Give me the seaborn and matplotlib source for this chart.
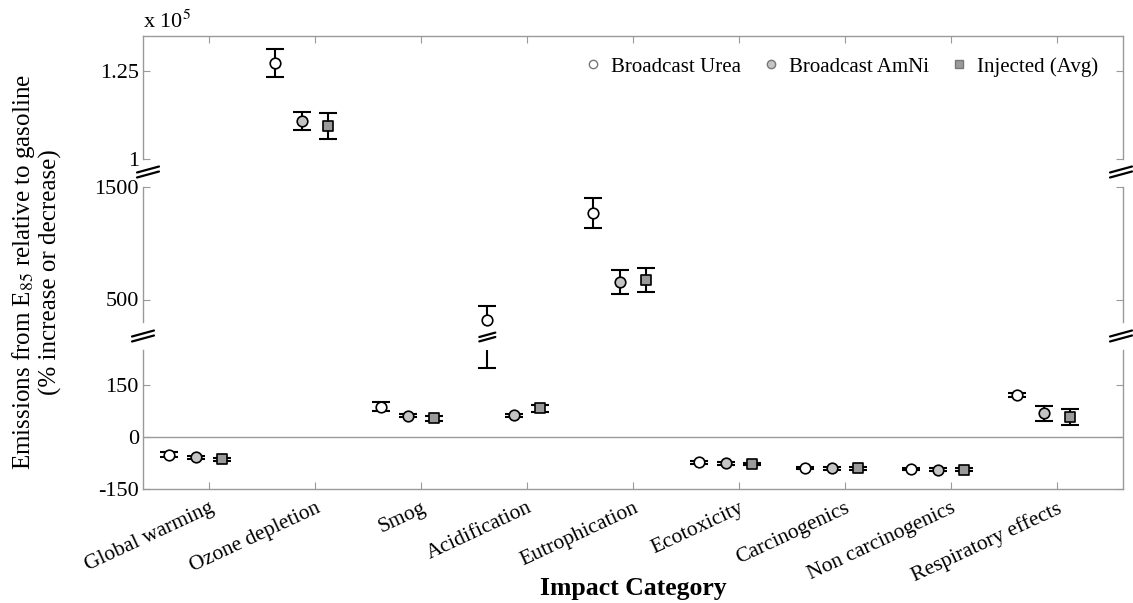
import numpy as np
import pandas as pd
import matplotlib
matplotlib.use("Agg")
import matplotlib.pyplot as plt
from matplotlib.lines import Line2D
import seaborn as sns

# ---- data: % change in emissions relative to gasoline ----
categories = ["Global warming", "Ozone depletion", "Smog", "Acidification",
              "Eutrophication", "Ecotoxicity", "Carcinogenics",
              "Non carcinogenics", "Respiratory effects"]
series = ["Broadcast Urea", "Broadcast AmNi", "Injected (Avg)"]

urea_mean = [-51, 127350, 87, 321, 1268, -73, -90, -93, 121]
urea_err = [7, 4000, 12, 123, 130, 4, 3, 3, 6]
amni_mean = [-58.5, 110900, 61, 62, 657, -76, -91, -94, 68]
amni_err = [4, 2600, 4, 5, 107, 4, 3, 3, 21]
inj_mean = [-64, 109500, 54, 83, 672, -78, -91, -94, 57]
inj_err = [4, 3700, 7, 10, 104, 4, 3, 3, 24]

means = {"Broadcast Urea": urea_mean, "Broadcast AmNi": amni_mean, "Injected (Avg)": inj_mean}
errs = {"Broadcast Urea": urea_err, "Broadcast AmNi": amni_err, "Injected (Avg)": inj_err}

# ---- styling ----
offsets = {"Broadcast Urea": -0.375, "Broadcast AmNi": -0.125, "Injected (Avg)": 0.125}
fills = {"Broadcast Urea": "white", "Broadcast AmNi": "#c4c4c4", "Injected (Avg)": "#9a9a9a"}
marks = {"Broadcast Urea": "o", "Broadcast AmNi": "o", "Injected (Avg)": "s"}
msize = {"Broadcast Urea": 58, "Broadcast AmNi": 58, "Injected (Avg)": 42}
SPINE = "#9a9a9a"

rows = []
for s in series:
    for i, c in enumerate(categories):
        rows.append({"category": c, "series": s, "value": means[s][i],
                     "err": errs[s][i], "xpos": i + 1 + offsets[s]})
df = pd.DataFrame(rows)

sns.set_style("ticks")
plt.rcParams["font.family"] = ["Liberation Serif", "DejaVu Serif"]
plt.rcParams["mathtext.fontset"] = "stix"
plt.rcParams["text.color"] = "black"

W, H = 1133, 603
fig = plt.figure(figsize=(W / 100, H / 100), dpi=100)


def px_rect(x0, y0, x1, y1):
    return [x0 / W, 1 - y1 / H, (x1 - x0) / W, (y1 - y0) / H]


ax_top = fig.add_axes(px_rect(143, 36, 1123, 159))
ax_mid = fig.add_axes(px_rect(143, 187, 1123, 322))
ax_bot = fig.add_axes(px_rect(143, 350, 1123, 489))

# y ranges of the three broken segments
limits = {ax_top: (1.0e5, 1.35e5), ax_mid: (300, 1500), ax_bot: (-150, 250)}

for ax, (lo, hi) in limits.items():
    ax.set_ylim(lo, hi)
    ax.set_xlim(0.375, 9.625)
    for s in series:
        sub = df[df["series"] == s]
        # error bars are clipped at each segment edge
        ax.errorbar(sub["xpos"], sub["value"], yerr=sub["err"], fmt="none",
                    ecolor="black", elinewidth=1.5, capsize=6.5, capthick=1.5,
                    zorder=2)
        # markers drawn whole, only in the segment that holds the value
        inside = sub[(sub["value"] >= lo) & (sub["value"] <= hi)]
        if len(inside):
            sns.scatterplot(data=inside, x="xpos", y="value", marker=marks[s],
                            color=fills[s], s=msize[s], edgecolor="black",
                            linewidth=1.2, legend=False, ax=ax, zorder=3,
                            clip_on=False)
    ax.set_xlim(0.375, 9.625)
    ax.set_ylim(lo, hi)
    ax.set_xlabel("")
    ax.set_ylabel("")
    for sp in ax.spines.values():
        sp.set_color(SPINE)
        sp.set_linewidth(1.0)
    ax.tick_params(axis="both", direction="in", length=5, color=SPINE,
                   labelcolor="black", labelsize=16, pad=3, right=True,
                   labelright=False)

ax_top.set_yticks([1.0e5, 1.25e5])
ax_top.set_yticklabels(["1", "1.25"])
ax_mid.set_yticks([500, 1500])
ax_mid.set_yticklabels(["500", "1500"])
ax_bot.set_yticks([-150, 0, 150])
ax_bot.set_yticklabels(["-150", "0", "150"])

ax_top.spines["bottom"].set_visible(False)
ax_mid.spines["top"].set_visible(False)
ax_mid.spines["bottom"].set_visible(False)
ax_bot.spines["top"].set_visible(False)

ax_top.set_xticks(range(1, 10))
ax_top.tick_params(axis="x", bottom=False, top=True, labelbottom=False)
ax_mid.set_xticks([])
ax_bot.set_xticks(range(1, 10))
ax_bot.set_xticklabels(categories, rotation=25, ha="right",
                       rotation_mode="anchor", fontsize=15.5)
ax_bot.tick_params(axis="x", top=False, pad=7)

ax_bot.axhline(0, color=SPINE, lw=1.0, zorder=1)

# legend
handles = [Line2D([], [], ls="none", marker=marks[s], markerfacecolor=fills[s],
                  markeredgecolor="#777777", markersize=6) for s in series]
ax_top.legend(handles, series, ncol=3, loc="center right",
              bbox_to_anchor=(0.983, 0.75), frameon=False, fontsize=15,
              handletextpad=0.35, columnspacing=0.95, handlelength=1.0,
              borderaxespad=0)

# axis-break marks
def break_mark(cx, cy, half=11, rise=3, gap=2.5):
    for d in (-gap, gap):
        fig.add_artist(Line2D([(cx - half) / W, (cx + half) / W],
                              [1 - (cy + rise + d) / H, 1 - (cy - rise + d) / H],
                              color="black", lw=1.6,
                              transform=fig.transFigure))


for cx, cy in [(148, 172), (143, 336), (1121, 172), (1121, 336)]:
    break_mark(cx, cy)

# break on the acidification urea error bar
fig.canvas.draw()
xd = ax_bot.transData.transform((4 + offsets["Broadcast Urea"], 0))[0]
break_mark(xd, 337, half=8, rise=2.2, gap=2.2)

fig.text(143 / W, 1 - 28 / H, r"x 10$^5$", fontsize=16, va="baseline")
fig.text(0.032, 0.549,
         "Emissions from E$_{85}$ relative to gasoline\n(% increase or decrease)",
         rotation=90, ha="center", va="center", fontsize=18,
         multialignment="center", linespacing=1.1)
fig.text(633 / W, 1 - 588 / H, "Impact Category", fontweight="bold",
         ha="center", va="center", fontsize=18.5)

fig.savefig("out.png", dpi=100)
